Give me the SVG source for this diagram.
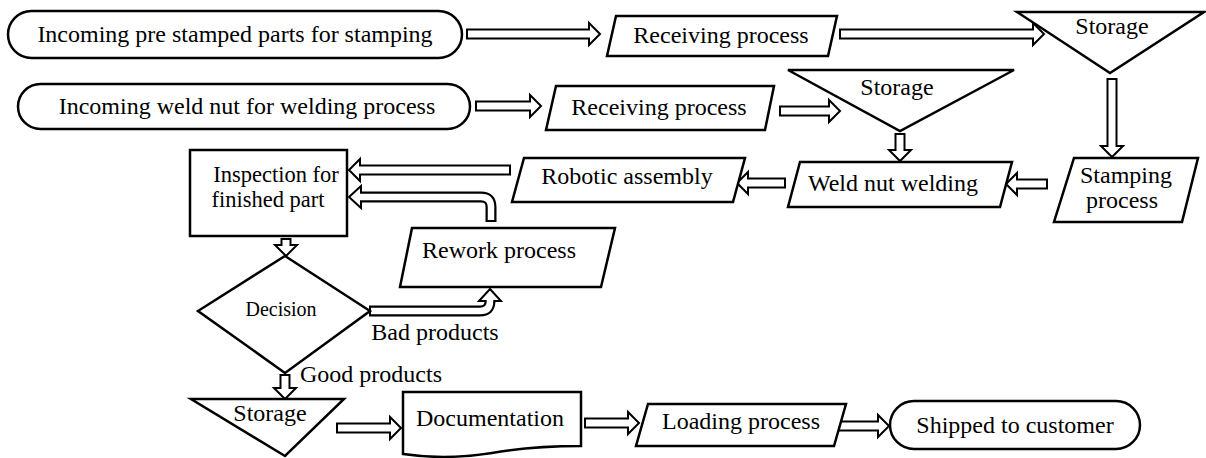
<svg xmlns="http://www.w3.org/2000/svg" width="1206" height="458" viewBox="0 0 1206 458">
  <style>
    .shape { fill: #fff; stroke: #000; stroke-width: 2.5; stroke-linejoin: miter; }
    .arrow { fill: #fff; stroke: #000; stroke-width: 2; stroke-linejoin: miter; }
    .bend-outer { fill: none; stroke: #000; stroke-width: 11; }
    .bend-inner { fill: none; stroke: #fff; stroke-width: 6.5; }
    text { font-family: "Liberation Serif", "Times New Roman", serif; font-size: 24px; fill: #000; text-anchor: middle; }
    .small { font-size: 20px; }
    .boxed { font-size: 22.5px; }
  </style>
  <rect width="1206" height="458" fill="#fff"/>

  <!-- connectors: hollow block arrows -->
  <g id="connectors">
    <polygon class="arrow" points="467,29.5 589,29.5 589,23 600,34 589,45 589,38.5 467,38.5"/>
    <polygon class="arrow" points="840,29.5 1033,29.5 1033,23 1044,34 1033,45 1033,38.5 840,38.5"/>
    <polygon class="arrow" points="476,101.5 530,101.5 530,95 541,106 530,117 530,110.5 476,110.5"/>
    <polygon class="arrow" points="780,106.5 829,106.5 829,100 840,111 829,122 829,115.5 780,115.5"/>
    <polygon class="arrow" points="1107.5,79 1107.5,146 1101,146 1112,157 1123,146 1116.5,146 1116.5,79"/>
    <polygon class="arrow" points="1047,179.5 1017,179.5 1017,173 1006,184 1017,195 1017,188.5 1047,188.5"/>
    <polygon class="arrow" points="895.5,134 895.5,150 889,150 900,161 911,150 904.5,150 904.5,134"/>
    <polygon class="arrow" points="785,178.5 748,178.5 748,172 737,183 748,194 748,187.5 785,187.5"/>
    <polygon class="arrow" points="510,165.5 360,165.5 360,159 349,170 360,181 360,174.5 510,174.5"/>
    <polygon class="arrow" points="281.5,239 281.5,245 275,245 286,256 297,245 290.5,245 290.5,239"/>
    <polygon class="arrow" points="280.5,375 280.5,388 274,388 285,399 296,388 289.5,388 289.5,375"/>
    <polygon class="arrow" points="337,423.5 390,423.5 390,417 401,428 390,439 390,432.5 337,432.5"/>
    <polygon class="arrow" points="585,418.5 628,418.5 628,412 639,423 628,434 628,427.5 585,427.5"/>
    <polygon class="arrow" points="837,421.5 878,421.5 878,415 889,426 878,437 878,430.5 837,430.5"/>

    <!-- rework back to inspection -->
    <path class="bend-outer" d="M491,222 V207 Q491,197 481,197 H359"/>
    <polygon class="arrow" points="361,186 349,197 361,208"/>
    <path class="bend-inner" d="M491,220 V207 Q491,197 481,197 H358"/>

    <!-- decision to rework -->
    <path class="bend-outer" d="M369,311 H480 Q490,311 490,301 V300"/>
    <polygon class="arrow" points="479,301 490,289 501,301"/>
    <path class="bend-inner" d="M371,311 H480 Q490,311 490,301 V299"/>

    <text x="435" y="340">Bad products</text>
    <text x="371" y="382">Good products</text>
  </g>

  <g id="incoming-pre-stamped">
    <rect class="shape" x="8" y="11" width="454" height="47" rx="23.5"/>
    <text x="235" y="42">Incoming pre stamped parts for stamping</text>
  </g>

  <g id="receiving-1">
    <polygon class="shape" points="616,16 837,16 828,56 607,56"/>
    <text x="721" y="43">Receiving process</text>
  </g>

  <g id="storage-1">
    <polygon class="shape" points="1017,12 1204,12 1110,73"/>
    <text x="1112" y="34">Storage</text>
  </g>

  <g id="incoming-weld-nut">
    <rect class="shape" x="18" y="84" width="452" height="45" rx="22.5"/>
    <text x="247" y="114">Incoming weld nut for welding process</text>
  </g>

  <g id="receiving-2">
    <polygon class="shape" points="556,86 774,86 765,130 546,130"/>
    <text x="659" y="115">Receiving process</text>
  </g>

  <g id="storage-2">
    <polygon class="shape" points="788,70 1014,70 900,131"/>
    <text x="897" y="95">Storage</text>
  </g>

  <g id="stamping">
    <polygon class="shape" points="1074,158 1198,158 1182,222 1054,222"/>
    <text x="1126" y="183">Stamping</text>
    <text x="1122" y="208">process</text>
  </g>

  <g id="weld-nut-welding">
    <polygon class="shape" points="800,162 1012,162 1000,207 788,207"/>
    <text x="893" y="191">Weld nut welding</text>
  </g>

  <g id="robotic-assembly">
    <polygon class="shape" points="524,158 745,158 733,202 512,202"/>
    <text x="627" y="184">Robotic assembly</text>
  </g>

  <g id="inspection">
    <rect class="shape" x="190" y="150" width="157" height="86"/>
    <text class="boxed" x="276" y="182">Inspection for</text>
    <text class="boxed" x="268" y="207">finished part</text>
  </g>

  <g id="rework">
    <polygon class="shape" points="412,228 615,228 601,287 400,287"/>
    <text x="499" y="258">Rework process</text>
  </g>

  <g id="decision">
    <polygon class="shape" points="285,256 370,311 285,373 198,311"/>
    <text class="small" x="281" y="316">Decision</text>
  </g>

  <g id="storage-3">
    <polygon class="shape" points="191,399 344,399 285,456"/>
    <text x="270" y="421">Storage</text>
  </g>

  <g id="documentation">
    <path class="shape" d="M403,392 H581 V446 C548,446 520,448 492,453 C460,458 430,458 403,454 Z"/>
    <text x="490" y="426">Documentation</text>
  </g>

  <g id="loading">
    <polygon class="shape" points="648,404 846,404 834,446 636,446"/>
    <text x="741" y="429">Loading process</text>
  </g>

  <g id="shipped">
    <rect class="shape" x="890" y="401" width="250" height="48" rx="24"/>
    <text x="1015" y="433">Shipped to customer</text>
  </g>
</svg>
